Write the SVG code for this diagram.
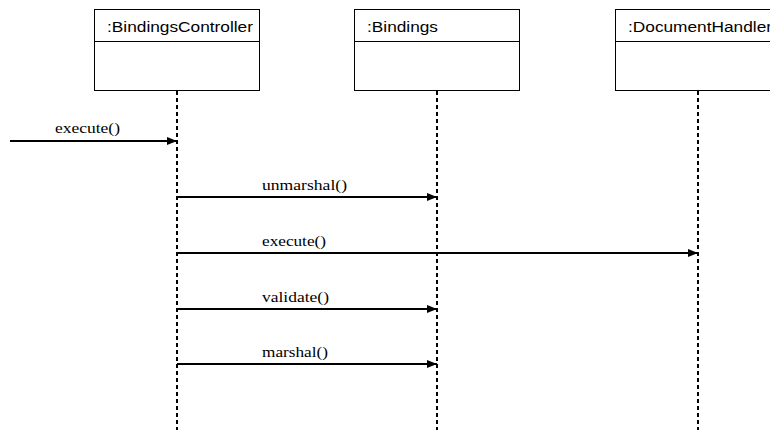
<svg xmlns="http://www.w3.org/2000/svg" width="770" height="430" viewBox="0 0 770 430">
  <style>
    .box { fill: #ffffff; stroke: #000000; stroke-width: 1; }
    .hdr { fill: none; stroke: #000000; stroke-width: 1; }
    .life { fill: none; stroke: #000000; stroke-width: 2; stroke-dasharray: 4 3; }
    .msg { fill: none; stroke: #000000; stroke-width: 2; marker-end: url(#arrow); }
    .name { font-family: "Liberation Sans", Arial, sans-serif; font-size: 15.5px; fill: #000000; }
    .label { font-family: "Liberation Serif", "Times New Roman", serif; font-size: 15.5px; fill: #000000; }
  </style>
  <defs>
    <marker id="arrow" markerWidth="10" markerHeight="8" refX="10" refY="4" orient="auto" markerUnits="userSpaceOnUse">
      <path d="M0,0 L10,4 L0,8 Z" fill="#000000"/>
    </marker>
  </defs>
  <rect width="770" height="430" fill="#ffffff"/>

  <!-- lifelines and messages -->
  <g id="connectors">
    <line class="life" x1="177" y1="91" x2="177" y2="430"/>
    <line class="life" x1="437" y1="91" x2="437" y2="430"/>
    <line class="life" x1="698" y1="91" x2="698" y2="430"/>

    <line class="msg" x1="10" y1="141" x2="177" y2="141"/>
    <text class="label" x="55" y="133" textLength="65" lengthAdjust="spacingAndGlyphs">execute()</text>

    <line class="msg" x1="177" y1="197" x2="437" y2="197"/>
    <text class="label" x="262" y="190" textLength="85" lengthAdjust="spacingAndGlyphs">unmarshal()</text>

    <line class="msg" x1="177" y1="253" x2="698" y2="253"/>
    <text class="label" x="262" y="246" textLength="64" lengthAdjust="spacingAndGlyphs">execute()</text>

    <line class="msg" x1="177" y1="309" x2="437" y2="309"/>
    <text class="label" x="262" y="302" textLength="67" lengthAdjust="spacingAndGlyphs">validate()</text>

    <line class="msg" x1="177" y1="364" x2="437" y2="364"/>
    <text class="label" x="262" y="357" textLength="66" lengthAdjust="spacingAndGlyphs">marshal()</text>
  </g>

  <g id="bindingsController">
    <rect class="box" x="94.5" y="9.5" width="165" height="81"/>
    <line class="hdr" x1="94.5" y1="41.5" x2="259.5" y2="41.5"/>
    <text class="name" x="107" y="32" textLength="146" lengthAdjust="spacingAndGlyphs">:BindingsController</text>
  </g>

  <g id="bindings">
    <rect class="box" x="354.5" y="9.5" width="165" height="81"/>
    <line class="hdr" x1="354.5" y1="41.5" x2="519.5" y2="41.5"/>
    <text class="name" x="367" y="32" textLength="71" lengthAdjust="spacingAndGlyphs">:Bindings</text>
  </g>

  <g id="documentHandler">
    <rect class="box" x="615.5" y="9.5" width="165" height="81"/>
    <line class="hdr" x1="615.5" y1="41.5" x2="780.5" y2="41.5"/>
    <text class="name" x="628" y="32" textLength="144" lengthAdjust="spacingAndGlyphs">:DocumentHandler</text>
  </g>
</svg>
